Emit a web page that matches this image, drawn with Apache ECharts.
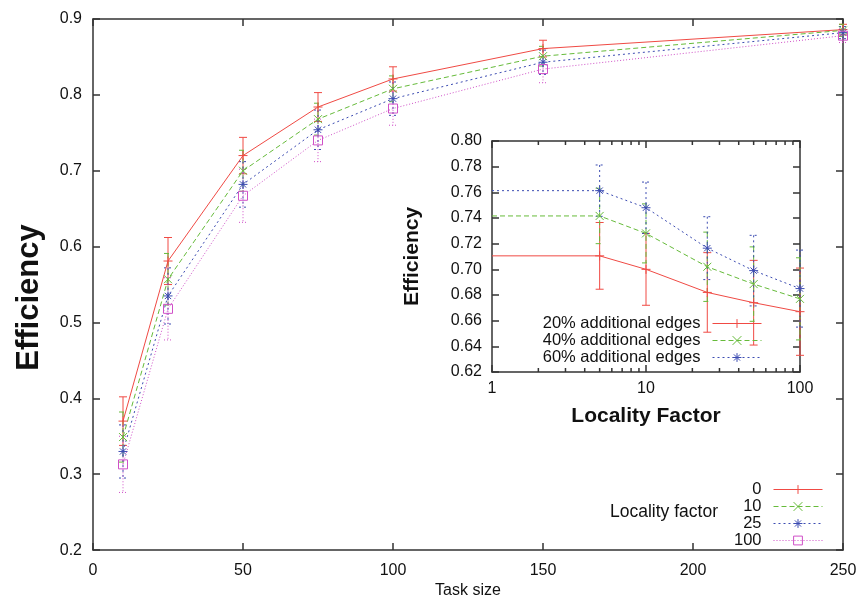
<!DOCTYPE html>
<html><head><meta charset="utf-8">
<script src="https://cdn.jsdelivr.net/npm/echarts@6/dist/echarts.min.js"></script>
<style>html,body{margin:0;padding:0;background:#fff}#c{width:861px;height:604px}</style>
</head><body><div id="c"></div>
<script>
// ---------- main chart data ----------
const taskSizes = [10, 25, 50, 75, 100, 150, 250];
const mainXTicks = [0, 50, 100, 150, 200, 250];
const mainYTicks = [0.2, 0.3, 0.4, 0.5, 0.6, 0.7, 0.8, 0.9];
const mainNames = ['0', '10', '25', '100'];
const eff0   = [0.370, 0.581, 0.720, 0.784, 0.821, 0.861, 0.886];
const err0   = [0.032, 0.031, 0.024, 0.019, 0.016, 0.011, 0.007];
const eff10  = [0.349, 0.557, 0.700, 0.768, 0.808, 0.851, 0.885];
const err10  = [0.033, 0.034, 0.027, 0.021, 0.017, 0.013, 0.008];
const eff25  = [0.330, 0.535, 0.682, 0.754, 0.795, 0.843, 0.882];
const err25  = [0.035, 0.037, 0.030, 0.026, 0.022, 0.016, 0.008];
const eff100 = [0.313, 0.518, 0.667, 0.740, 0.782, 0.834, 0.878];
const err100 = [0.037, 0.041, 0.035, 0.028, 0.022, 0.018, 0.009];

// ---------- inset data ----------
const locality = [1, 5, 10, 25, 50, 100];
const insetNames = ['20% additional edges', '40% additional edges', '60% additional edges'];
const e20  = [0.7105, 0.7105, 0.700, 0.682, 0.674, 0.667];
const er20 = [null, 0.026, 0.028, 0.031, 0.033, 0.034];
const e40  = [0.7416, 0.7416, 0.728, 0.702, 0.6885, 0.677];
const er40 = [null, 0.0216, 0.023, 0.027, 0.029, 0.032];
const e60  = [0.7613, 0.7613, 0.748, 0.7165, 0.699, 0.685];
const er60 = [null, 0.020, 0.020, 0.0245, 0.0275, 0.030];
const insetYTicks = [0.62, 0.64, 0.66, 0.68, 0.70, 0.72, 0.74, 0.76, 0.78, 0.80];
const insetMinorTicks = [2, 3, 4, 5, 6, 7, 8, 9, 20, 30, 40, 50, 60, 70, 80, 90];

// ---------- styles ----------
const FONT = 'Liberation Sans, Arial, sans-serif';
const C = { red: '#f04a44', green: '#66bb3a', blue: '#3c4cb2', mag: '#d050c8' };
const SYM = {
  plus: 'path://M0,5L10,5M5,0L5,10',
  cross: 'path://M0,0L10,10M10,0L0,10',
  star: 'path://M0,5L10,5M5,0L5,10M1.5,1.5L8.5,8.5M8.5,1.5L1.5,8.5',
  square: 'path://M0,0L10,0L10,10L0,10Z'
};
const DASH = { solid: 'solid', dashed: [5, 3], short: [2, 3], dot: [1, 2] };

function lineSeries(name, xs, ys, color, dash, sym, size, xi, yi, hideFirst) {
  return {
    type: 'line', name: name, xAxisIndex: xi, yAxisIndex: yi,
    data: xs.map((x, i) => (hideFirst && i === 0) ? { value: [x, ys[i]], symbol: 'none' } : [x, ys[i]]),
    symbol: sym, symbolSize: size, showSymbol: true, showAllSymbol: true,
    lineStyle: { color: color, width: 1, type: dash },
    itemStyle: { color: 'rgba(0,0,0,0)', borderColor: color, borderWidth: 1 },
    emphasis: { disabled: true }, silent: true, animation: false, z: 3
  };
}
function errSeries(xs, ys, es, color, dash, xi, yi) {
  const data = [];
  xs.forEach((x, i) => { if (es[i] != null) data.push([x, ys[i], es[i]]); });
  return {
    type: 'custom', xAxisIndex: xi, yAxisIndex: yi, data: data, encode: { x: 0, y: 1 },
    silent: true, animation: false, z: 2,
    renderItem: function (params, api) {
      const x = api.value(0), y = api.value(1), e = api.value(2);
      const t = api.coord([x, y + e]), b = api.coord([x, y - e]);
      const st = { stroke: color, lineWidth: 1, lineDash: Array.isArray(dash) ? dash : null };
      const w = 4;
      return { type: 'group', children: [
        { type: 'line', shape: { x1: t[0], y1: t[1], x2: b[0], y2: b[1] }, style: st },
        { type: 'line', shape: { x1: t[0] - w, y1: t[1], x2: t[0] + w, y2: t[1] }, style: st },
        { type: 'line', shape: { x1: b[0] - w, y1: b[1], x2: b[0] + w, y2: b[1] }, style: st }
      ] };
    }
  };
}

const AXC = '#333';
function axisBase(extra) {
  return Object.assign({
    axisLine: { show: true, onZero: false, lineStyle: { color: AXC, width: 1.5 } },
    axisTick: { show: true, inside: true, length: 7, lineStyle: { color: AXC, width: 1.5 } },
    splitLine: { show: false },
    axisLabel: { show: true, fontSize: 16, color: '#111', fontFamily: FONT }
  }, extra);
}

const insetYMin = insetYTicks[0], insetYMax = insetYTicks[insetYTicks.length - 1];

const series = [
  errSeries(taskSizes, eff0, err0, C.red, DASH.solid, 0, 0),
  lineSeries(mainNames[0], taskSizes, eff0, C.red, DASH.solid, SYM.plus, 9, 0, 0),
  errSeries(taskSizes, eff10, err10, C.green, DASH.dashed, 0, 0),
  lineSeries(mainNames[1], taskSizes, eff10, C.green, DASH.dashed, SYM.cross, 8, 0, 0),
  errSeries(taskSizes, eff25, err25, C.blue, DASH.short, 0, 0),
  lineSeries(mainNames[2], taskSizes, eff25, C.blue, DASH.short, SYM.star, 9, 0, 0),
  errSeries(taskSizes, eff100, err100, C.mag, DASH.dot, 0, 0),
  lineSeries(mainNames[3], taskSizes, eff100, C.mag, DASH.dot, SYM.square, 9, 0, 0),

  errSeries(locality, e20, er20, C.red, DASH.solid, 2, 2),
  lineSeries(insetNames[0], locality, e20, C.red, DASH.solid, SYM.plus, 9, 2, 2, true),
  errSeries(locality, e40, er40, C.green, DASH.dashed, 2, 2),
  lineSeries(insetNames[1], locality, e40, C.green, DASH.dashed, SYM.cross, 8, 2, 2, true),
  errSeries(locality, e60, er60, C.blue, DASH.short, 2, 2),
  lineSeries(insetNames[2], locality, e60, C.blue, DASH.short, SYM.star, 9, 2, 2, true),
  {
    type: 'custom', xAxisIndex: 2, yAxisIndex: 2, silent: true, animation: false, z: 5,
    data: insetMinorTicks.map(v => [v, insetYMin]), encode: { x: 0, y: 1 },
    renderItem: function (params, api) {
      const v = api.value(0);
      const b = api.coord([v, insetYMin]), t = api.coord([v, insetYMax]);
      const st = { stroke: AXC, lineWidth: 1.5 };
      return { type: 'group', children: [
        { type: 'line', shape: { x1: b[0], y1: b[1], x2: b[0], y2: b[1] - 4 }, style: st },
        { type: 'line', shape: { x1: t[0], y1: t[1], x2: t[0], y2: t[1] + 4 }, style: st }
      ] };
    }
  }
];

const legendCommon = {
  orient: 'vertical', align: 'right', itemWidth: 49, itemHeight: 11, padding: 0,
  selectedMode: false,
  textStyle: { fontSize: 16.5, color: '#111', fontFamily: FONT, lineHeight: 16, padding: [0, 7, 0, 0] },
  itemStyle: { borderWidth: 1 }, lineStyle: { width: 1 }
};

const option = {
  animation: false,
  backgroundColor: '#fff',
  textStyle: { fontFamily: FONT },
  title: [{ text: 'Locality factor', left: 610, top: 503, padding: 0,
    textStyle: { fontSize: 17.5, fontWeight: 'normal', color: '#111', fontFamily: FONT } }],
  legend: [
    Object.assign({}, legendCommon, { data: mainNames, right: 38, top: 481, itemGap: 0 }),
    Object.assign({}, legendCommon, { data: insetNames, right: 99, top: 315, itemGap: 0 })
  ],
  grid: [
    { left: 93, top: 19, width: 750, height: 536 },
    { left: 492, top: 141, width: 308, height: 231 }
  ],
  xAxis: [
    axisBase({ gridIndex: 0, type: 'value', position: 'bottom', min: mainXTicks[0], max: mainXTicks[mainXTicks.length - 1], interval: 50,
      name: 'Task size', nameLocation: 'middle', nameGap: 31,
      nameTextStyle: { fontSize: 16, color: '#111', fontFamily: FONT },
      axisLabel: { fontSize: 16, color: '#111', margin: 12, fontFamily: FONT } }),
    axisBase({ gridIndex: 0, type: 'value', position: 'top', min: mainXTicks[0], max: mainXTicks[mainXTicks.length - 1], interval: 50,
      axisLabel: { show: false } }),
    axisBase({ gridIndex: 1, type: 'log', logBase: 10, position: 'bottom', min: locality[0], max: locality[locality.length - 1],
      name: 'Locality Factor', nameLocation: 'middle', nameGap: 34,
      nameTextStyle: { fontSize: 21, fontWeight: 'bold', color: '#111', fontFamily: FONT },
      axisLabel: { fontSize: 16, color: '#111', margin: 9, fontFamily: FONT } }),
    axisBase({ gridIndex: 1, type: 'log', logBase: 10, position: 'top', min: locality[0], max: locality[locality.length - 1],
      axisLabel: { show: false } })
  ],
  yAxis: [
    axisBase({ gridIndex: 0, type: 'value', position: 'left', min: mainYTicks[0], max: mainYTicks[mainYTicks.length - 1], interval: 0.1,
      name: 'Efficiency', nameLocation: 'middle', nameRotate: 90, nameGap: 48,
      nameTextStyle: { fontSize: 31, fontWeight: 'bold', color: '#111', fontFamily: FONT, padding: [0, 26, 0, 0] },
      axisLabel: { fontSize: 16, color: '#111', margin: 11, fontFamily: FONT, formatter: v => v.toFixed(1) } }),
    axisBase({ gridIndex: 0, type: 'value', position: 'right', min: mainYTicks[0], max: mainYTicks[mainYTicks.length - 1], interval: 0.1,
      axisLabel: { show: false } }),
    axisBase({ gridIndex: 1, type: 'value', position: 'left', min: insetYMin, max: insetYMax, interval: 0.02,
      name: 'Efficiency', nameLocation: 'middle', nameRotate: 90, nameGap: 69,
      nameTextStyle: { fontSize: 21, fontWeight: 'bold', color: '#111', fontFamily: FONT },
      axisLabel: { fontSize: 16, color: '#111', margin: 10, fontFamily: FONT, formatter: v => v.toFixed(2) } }),
    axisBase({ gridIndex: 1, type: 'value', position: 'right', min: insetYMin, max: insetYMax, interval: 0.02,
      axisLabel: { show: false } })
  ],
  series: series
};

const chart = echarts.init(document.getElementById('c'), null, { renderer: 'canvas' });
chart.setOption(option);
</script>
</body></html>
